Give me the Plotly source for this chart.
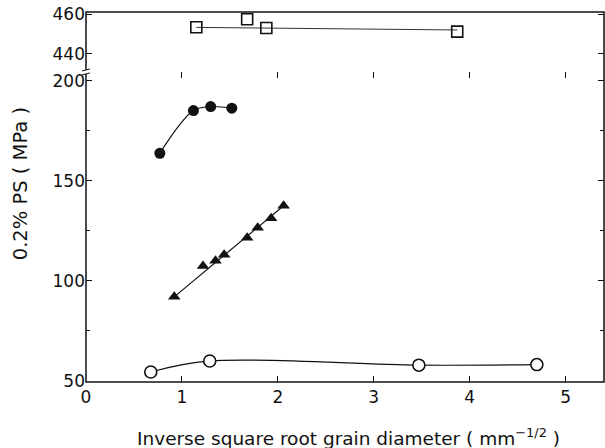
import plotly.graph_objects as go

# ---- data ----
sq_x = [1.15, 1.68, 1.88, 3.87]
sq_y = [453.4, 457.4, 453.0, 451.2]
sq_fit_x = [1.15, 3.87]
sq_fit_y = [453.3, 452.0]

fc_x = [0.77, 1.12, 1.30, 1.52]
fc_y = [163.7, 185.0, 187.0, 186.2]

tri_x = [0.92, 1.22, 1.35, 1.44, 1.68, 1.79, 1.93, 2.06]
tri_y = [92.0, 107.4, 110.0, 113.0, 121.5, 126.5, 131.2, 137.5]

oc_x = [0.675, 1.29, 3.47, 4.70]
oc_y = [54.5, 60.0, 57.9, 58.2]

x_ticks = [0, 1, 2, 3, 4, 5]
y_low_ticks = [50, 100, 150, 200]
y_low_minor = [75, 125, 175]
y_high_ticks = [440, 460]

FONT = "DejaVu Sans, Liberation Sans, Arial, sans-serif"
BLK = "#111111"
D = 0.838  # axis break position (paper fraction)

fig = go.Figure()

# open squares + fit line (upper panel)
fig.add_trace(go.Scatter(x=sq_fit_x, y=sq_fit_y, mode="lines", yaxis="y2",
                         line=dict(color="#333333", width=1), showlegend=False))
fig.add_trace(go.Scatter(x=sq_x, y=sq_y, mode="markers", yaxis="y2",
                         marker=dict(symbol="square-open", size=11, color=BLK,
                                     line=dict(width=1.6)), showlegend=False))

# filled circles
fig.add_trace(go.Scatter(x=fc_x, y=fc_y, mode="lines+markers",
                         line=dict(color=BLK, width=1.2, shape="spline", smoothing=1.0),
                         marker=dict(symbol="circle", size=11, color=BLK),
                         showlegend=False))

# triangles
fig.add_trace(go.Scatter(x=[tri_x[0], tri_x[-1]], y=[tri_y[0], tri_y[-1]], mode="lines",
                         line=dict(color=BLK, width=1.2), showlegend=False))
fig.add_trace(go.Scatter(x=tri_x, y=tri_y, mode="markers",
                         marker=dict(symbol="triangle-up", size=11, color=BLK),
                         showlegend=False))

# open circles
fig.add_trace(go.Scatter(x=oc_x, y=oc_y, mode="lines+markers",
                         line=dict(color=BLK, width=1.2, shape="spline", smoothing=1.0),
                         marker=dict(symbol="circle", size=12, color="white",
                                     line=dict(color=BLK, width=1.6)),
                         showlegend=False))

axis_common = dict(showgrid=False, zeroline=False, showline=False,
                   ticks="inside", ticklen=6, tickwidth=1, tickcolor=BLK,
                   tickfont=dict(family=FONT, size=17, color=BLK))

fig.update_layout(
    width=605, height=448,
    margin=dict(l=86, r=1, t=12, b=66),
    plot_bgcolor="white", paper_bgcolor="white",
    xaxis=dict(range=[0, 5.4], tickvals=x_ticks, mirror="ticks", anchor="y",
               ticklabelstandoff=3, **axis_common),
    yaxis=dict(range=[49.5, 204.3], domain=[0, D], tickvals=y_low_ticks,
               mirror="ticks",
               minor=dict(tickvals=y_low_minor, ticks="inside", ticklen=4,
                          tickcolor=BLK),
               **axis_common),
    yaxis2=dict(range=[431, 461], domain=[D, 1], tickvals=y_high_ticks,
                mirror="ticks", anchor="x", **axis_common),
    shapes=[
        dict(type="rect", xref="paper", yref="paper", x0=0, x1=1, y0=0, y1=1,
             line=dict(color=BLK, width=1.5)),
        # axis break marks on left axis
        dict(type="rect", xref="paper", yref="paper", xsizemode="pixel",
             ysizemode="pixel", xanchor=0, yanchor=D, x0=-3, x1=3, y0=-2, y1=2,
             fillcolor="white", line=dict(width=0)),
        dict(type="line", xref="paper", yref="paper", xsizemode="pixel",
             ysizemode="pixel", xanchor=0, yanchor=D, x0=-4, x1=4, y0=1, y1=3,
             line=dict(color=BLK, width=1)),
        dict(type="line", xref="paper", yref="paper", xsizemode="pixel",
             ysizemode="pixel", xanchor=0, yanchor=D, x0=-4, x1=4, y0=-3, y1=-1,
             line=dict(color=BLK, width=1)),
    ],
    annotations=[
        dict(text="0.2% PS ( MPa )", xref="paper", yref="paper",
             x=-0.127, y=0.535, textangle=-90, showarrow=False,
             xanchor="center", yanchor="middle",
             font=dict(family=FONT, size=19.5, color=BLK)),
        dict(text="Inverse square root grain diameter ( mm<sup>−1/2</sup> )",
             xref="paper", yref="paper", x=0.506, y=-0.149, showarrow=False,
             xanchor="center", yanchor="middle",
             font=dict(family=FONT, size=18.5, color=BLK)),
    ],
)

fig.write_html("out.html")
